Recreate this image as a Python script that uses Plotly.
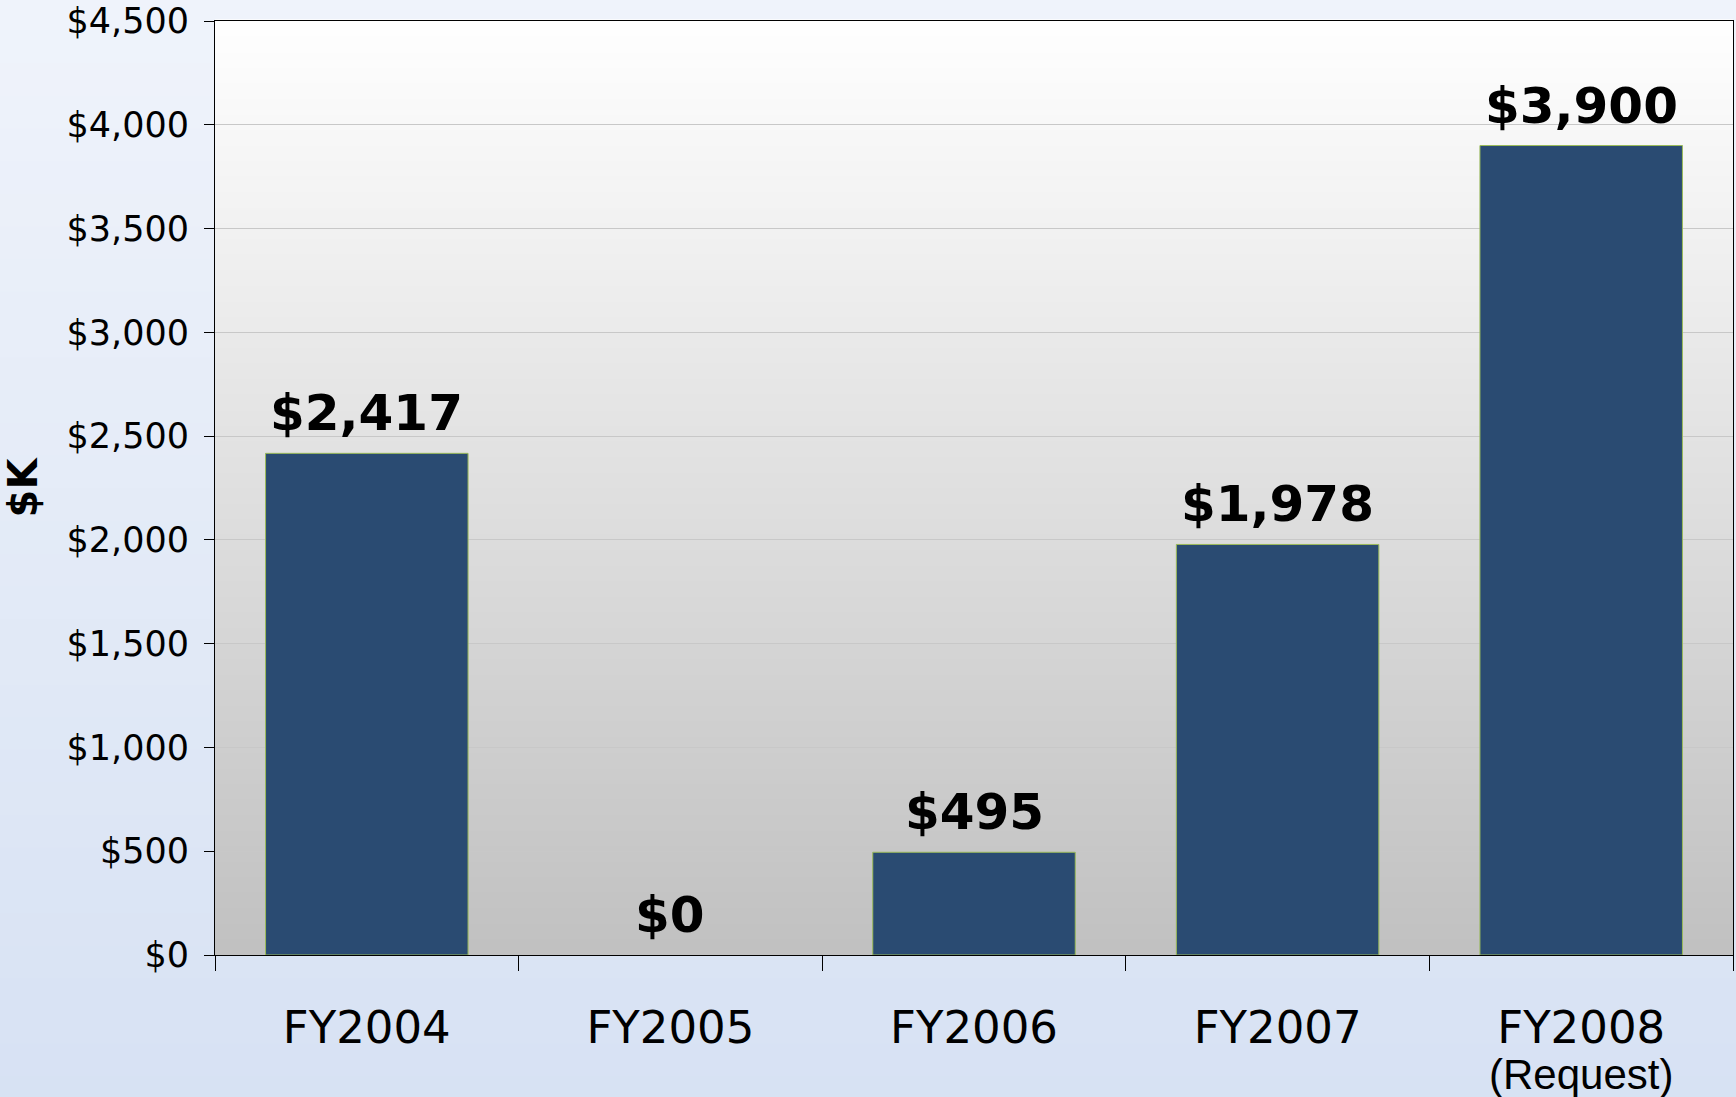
import plotly.graph_objects as go

categories = ["FY2004", "FY2005", "FY2006", "FY2007", "FY2008"]
tick_labels = ["FY2004", "FY2005", "FY2006", "FY2007", "FY2008"]
sub_label_category = "FY2008"
sub_label = "(Request)"
values = [2417, 0, 495, 1978, 3900]
value_labels = ["$2,417", "$0", "$495", "$1,978", "$3,900"]

fig = go.Figure()

# page background (light sky/water blue, a bit bluer toward the bottom)
n = 40
ptop = (243, 246, 252)
pbot = (214, 225, 243)
for i in range(n):
    t0 = i / n
    t1 = (i + 1) / n
    f = (t0 + t1) / 2
    c = tuple(int(round(pbot[k] + (ptop[k] - pbot[k]) * f)) for k in range(3))
    fig.add_shape(type="rect", xref="paper", yref="paper",
                  x0=-0.2, x1=1.1, y0=-0.2 + t0 * 1.4, y1=-0.2 + t1 * 1.4 + 0.003,
                  fillcolor="rgb(%d,%d,%d)" % c, line_width=0, layer="below")

# plot-area background gradient (white top -> gray bottom)
n = 60
top = (255, 255, 255)
bot = (192, 192, 192)
for i in range(n):
    t0 = i / n
    t1 = (i + 1) / n
    f = (t0 + t1) / 2
    c = tuple(int(round(bot[k] + (top[k] - bot[k]) * f)) for k in range(3))
    fig.add_shape(type="rect", xref="x domain", yref="y domain",
                  x0=0, x1=1, y0=t0, y1=t1 + 0.002,
                  fillcolor="rgb(%d,%d,%d)" % c, line_width=0, layer="below")

fig.add_trace(go.Bar(
    x=categories, y=values,
    marker=dict(color="#2a4b72",
                line=dict(color="#9bbb59", width=[0 if v == 0 else 1 for v in values])),
    width=0.667,
))

for cat, v, lab in zip(categories, values, value_labels):
    fig.add_annotation(x=cat, y=v, text="<b>%s</b>" % lab, showarrow=False,
                       yanchor="bottom", yshift=9,
                       font=dict(family="DejaVu Sans", size=50, color="black"))

fig.add_annotation(x=sub_label_category, xref="x", y=0, yref="paper",
                   text=sub_label, showarrow=False, yanchor="middle", yshift=-119,
                   font=dict(family="Liberation Sans, Arial", size=42, color="black"))

fig.update_layout(
    width=1736, height=1097,
    margin=dict(l=215, r=3, t=21, b=142),
    paper_bgcolor="#e9f0fa",
    plot_bgcolor="rgba(0,0,0,0)",
    showlegend=False,
    font=dict(family="DejaVu Sans", color="black"),
    xaxis=dict(
        type="category", tickmode="array", tickvals=categories, ticktext=tick_labels,
        tickfont=dict(family="DejaVu Sans", size=45, color="black"),
        ticks="outside", ticklen=15, tickcolor="black", tickson="boundaries",
        ticklabelstandoff=33, automargin=False,
        showline=True, linecolor="black", linewidth=1, mirror=True,
        showgrid=False,
    ),
    yaxis=dict(
        range=[0, 4500], dtick=500, tickprefix="$", tickformat=",d",
        tickfont=dict(family="DejaVu Sans", size=35, color="black"),
        ticks="outside", ticklen=10, tickcolor="black",
        ticklabelstandoff=8, automargin=False,
        showline=True, linecolor="black", linewidth=1, mirror=True,
        showgrid=True, gridcolor="#c8c8c8", gridwidth=1,
        zeroline=False,
        title=dict(text="<b>$K</b>", font=dict(family="DejaVu Sans", size=40, color="black"),
                   standoff=18),
    ),
)

fig.write_html("out.html")
